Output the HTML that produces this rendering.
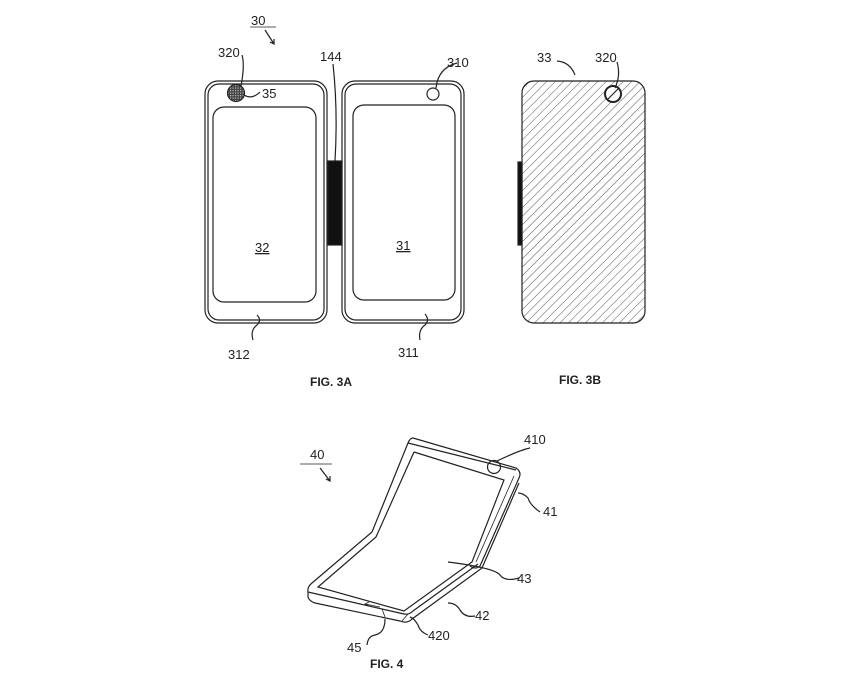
<!DOCTYPE html>
<html><head><meta charset="utf-8"><style>
html,body{margin:0;padding:0;background:#fff;width:860px;height:688px;overflow:hidden}
svg text{font-family:"Liberation Sans",sans-serif;font-size:13px;fill:#222}
</style></head><body>
<svg width="860" height="688" viewBox="0 0 860 688" xmlns="http://www.w3.org/2000/svg">
<defs>
<pattern id="hat" width="6" height="6" patternUnits="userSpaceOnUse" patternTransform="rotate(45)">
<line x1="0" y1="0" x2="0" y2="6" stroke="#555" stroke-width="1"/>
</pattern>
<pattern id="grid" width="2.5" height="2.5" patternUnits="userSpaceOnUse">
<rect width="2.5" height="2.5" fill="#444"/><rect width="1.2" height="1.2" fill="#bbb"/>
</pattern>
</defs>
<g fill="none" stroke="#222" stroke-width="1.2">
<!-- Fig 3A left -->
<rect x="205" y="81" width="122" height="242" rx="13"/>
<rect x="208" y="84" width="116" height="236" rx="11"/>
<rect x="213" y="107" width="103" height="195" rx="11"/>
<circle cx="236" cy="93" r="8.5" fill="url(#grid)"/>
<!-- hinge -->
<rect x="328" y="161" width="14" height="84" fill="#111"/>
<!-- right -->
<rect x="342" y="81" width="122" height="242" rx="13"/>
<rect x="345" y="84" width="116" height="236" rx="11"/>
<rect x="353" y="105" width="102" height="195" rx="11"/>
<circle cx="433" cy="94" r="6"/>
<!-- Fig 3B -->
<rect x="522" y="81" width="123" height="242" rx="12" fill="url(#hat)"/>
<rect x="518" y="162" width="4" height="83" fill="#111"/>
<circle cx="613" cy="94" r="8" fill="#fff" stroke-width="2"/>
<line x1="608" y1="99" x2="618" y2="89"/>
<!-- leaders -->
<path d="M242 55 Q245 65 241 86"/>
<path d="M244 95 Q252 100 260 92"/>
<path d="M333 64 Q338 110 335 161"/>
<path d="M457 63 Q438 68 436 88"/>
<path d="M253 340 Q250 330 257 325 Q262 320 257 315"/>
<path d="M420 340 Q418 330 425 325 Q430 320 425 314"/>
<path d="M557 61 Q570 62 575 75"/>
<path d="M617 62 Q621 75 615 88"/>
<line x1="250" y1="27" x2="276" y2="27" stroke-width="0.8"/>
<path d="M265 30 L274 44 M270 42 L274 44 L274 39"/>
<line x1="300" y1="464" x2="332" y2="464" stroke-width="0.8"/>
<path d="M320 468 L330 481 M326 479 L330 481 L330 476"/>
<!-- Fig 4 -->
<path d="M413 438 L516 468 Q522 472 519 478 L480 566 Q476 570 470 566 M413 438 Q410 438 408 443 L372 532 L312 583 Q307 587 308 592 L308 597 Q309 601 315 603 L400 621 Q407 624 412 619 L482 568 L519 483"/>
<path d="M408 443 L516 470"/>
<path d="M308 592 L404 614 Q409 615 413 611 L478 564"/>
<path d="M414 452 L504 480 L472 562 L404 611 L318 587 L376 537 L414 452"/>
<path d="M514 476 L476 562" stroke-width="0.8"/>
<circle cx="494" cy="467" r="6.5"/>
<path d="M382 609 L385 617 M408 614 L402 621" stroke-width="0.8"/>
<path d="M365 604 L380 607 M369 602 L365 604 L369 606" stroke-width="0.8"/>
<!-- fig 4 leaders -->
<path d="M530 448 Q520 450 497 461"/>
<path d="M540 512 Q530 505 528 498 Q523 493 518 493"/>
<path d="M519 578 Q505 582 500 575 Q495 568 448 562"/>
<path d="M475 616 Q465 618 460 610 Q456 603 448 603"/>
<path d="M428 635 Q420 632 418 625 Q414 618 410 617"/>
<path d="M367 645 Q368 636 375 635 Q385 633 385 619"/>
</g>
<text x="251" y="25">30</text>
<text x="218" y="57">320</text>
<text x="262" y="98">35</text>
<text x="320" y="61">144</text>
<text x="447" y="67">310</text>
<text x="537" y="62">33</text>
<text x="595" y="62">320</text>
<text x="255" y="252" text-decoration="underline">32</text>
<text x="396" y="250" text-decoration="underline">31</text>
<text x="228" y="359">312</text>
<text x="398" y="357">311</text>
<text x="310" y="386" style="font-weight:bold;font-size:12px">FIG. 3A</text>
<text x="559" y="384" style="font-weight:bold;font-size:12px">FIG. 3B</text>
<text x="310" y="459">40</text>
<text x="524" y="444">410</text>
<text x="543" y="516">41</text>
<text x="517" y="583">43</text>
<text x="475" y="620">42</text>
<text x="428" y="640">420</text>
<text x="347" y="652">45</text>
<text x="370" y="668" style="font-weight:bold;font-size:12px">FIG. 4</text>
</svg>
</body></html>
